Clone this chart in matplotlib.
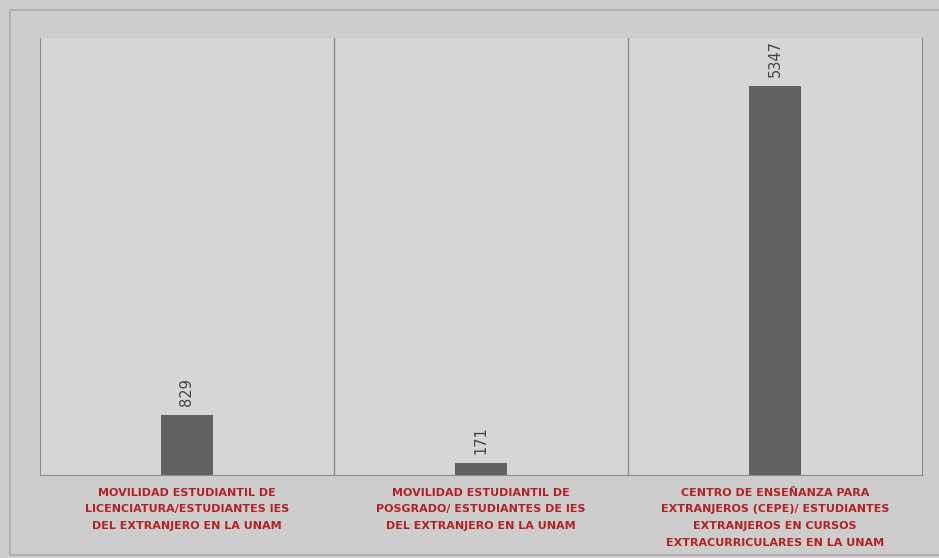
import matplotlib.pyplot as plt
from matplotlib.patches import Rectangle

# --- Datos ---
categorias = [
    "MOVILIDAD ESTUDIANTIL DE\nLICENCIATURA/ESTUDIANTES IES\nDEL EXTRANJERO EN LA UNAM",
    "MOVILIDAD ESTUDIANTIL DE\nPOSGRADO/ ESTUDIANTES DE IES\nDEL EXTRANJERO EN LA UNAM",
    "CENTRO DE ENSEÑANZA PARA\nEXTRANJEROS (CEPE)/ ESTUDIANTES\nEXTRANJEROS EN CURSOS\nEXTRACURRICULARES EN LA UNAM",
]
valores = [829, 171, 5347]

fig = plt.figure(figsize=(9.39, 5.58), dpi=100)
fig.patch.set_facecolor("#cdcdcd")

# marco exterior
fig.patches.append(Rectangle((10 / 939, 0.005), 0.995, 1 - 10 / 558 - 0.005,
                             transform=fig.transFigure, fill=False,
                             edgecolor="#a8a8a8", linewidth=1.2))

ax = fig.add_axes([40 / 939, 1 - 475 / 558, (922 - 40) / 939, (475 - 38) / 558])
ax.set_facecolor("#d6d6d6")

x = range(len(valores))
ax.bar(x, valores, width=0.18, color="#606163")

for xi, v in zip(x, valores):
    ax.text(xi, v + 120, str(v), rotation=90, ha="center", va="bottom",
            fontsize=10.5, color="#454545")

# separadores entre categorías
for b in [0.5, 1.5]:
    ax.axvline(b, color="#8c8c8c", linewidth=1)

ax.set_xlim(-0.5, 2.5)
ax.set_ylim(0, 6000)
ax.set_yticks([])
ax.set_xticks(list(x))
ax.set_xticklabels(categorias, fontsize=8, fontweight="bold", color="#b22222",
                   linespacing=1.85)
ax.tick_params(axis="x", length=0, pad=9)

for s in ["left", "right", "bottom"]:
    ax.spines[s].set_color("#8c8c8c")
ax.spines["top"].set_visible(False)

plt.savefig("out.png", dpi=100, facecolor=fig.get_facecolor())
